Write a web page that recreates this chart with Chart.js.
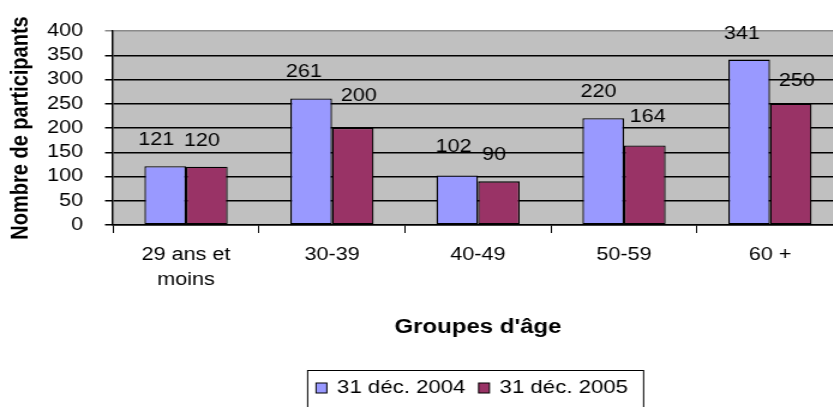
<!DOCTYPE html>
<html>
<head>
<meta charset="utf-8">
<script src="https://cdn.jsdelivr.net/npm/chart.js@4/dist/chart.umd.min.js"></script>
<style>
  html, body { margin: 0; padding: 0; background: #fff; overflow: hidden; width: 833px; height: 407px; }
  #wrap { width: 720px; height: 407px; transform: scaleX(1.2); transform-origin: 0 0; }
  canvas { display: block; }
</style>
</head>
<body>
<div id="wrap"><canvas id="c" width="720" height="407"></canvas></div>
<script>
const categories = [['29 ans et', 'moins'], '30-39', '40-49', '50-59', '60 +'];
const series2004 = [121, 261, 102, 220, 341];
const series2005 = [120, 200, 90, 164, 250];
const seriesLabels = ['31 déc. 2004', '31 déc. 2005'];
const seriesColors = ['#9999FF', '#993366'];
const yMin = 0, yMax = 400, yStep = 50;
const xTitle = "Groupes d'âge";
const yTitle = 'Nombre de participants';

// label placement offsets (style only)
const labelDx = [[-7.5, -6, -3, -4, -6], [-4, 5, -4, 2.5, 5]];
const labelDy = [[-26, -26, -28, -26, -26], [-26, -32, -26, -28, -23]];

const FONT = '"Liberation Sans", Arial, sans-serif';

const plotBg = {
  id: 'plotBg',
  beforeDraw(chart) {
    const { ctx, chartArea: a } = chart;
    ctx.save();
    ctx.fillStyle = '#C0C0C0';
    ctx.fillRect(a.left, a.top, a.right - a.left, a.bottom - a.top);
    ctx.restore();
  }
};

const valueLabels = {
  id: 'valueLabels',
  afterDatasetsDraw(chart) {
    const ctx = chart.ctx;
    ctx.save();
    ctx.font = '18px ' + FONT;
    ctx.fillStyle = '#000';
    ctx.textAlign = 'center';
    ctx.textBaseline = 'middle';
    chart.data.datasets.forEach((ds, di) => {
      const meta = chart.getDatasetMeta(di);
      meta.data.forEach((el, i) => {
        ctx.fillText(String(ds.data[i]), el.x + labelDx[di][i], el.y + labelDy[di][i]);
      });
    });
    ctx.restore();
  }
};

const boxLegend = {
  id: 'boxLegend',
  afterDraw(chart) {
    const ctx = chart.ctx;
    const a = chart.chartArea;
    ctx.save();
    ctx.font = '18.5px ' + FONT;
    const mw = 9, mh = 10, padL = 7.5, padR = 12.5, gapM = 8.5, gapItem = 11;
    const ds = chart.data.datasets;
    const widths = ds.map(d => ctx.measureText(d.label).width);
    let total = padL + padR;
    widths.forEach((w, i) => { total += mw + gapM + w + (i < widths.length - 1 ? gapItem : 0); });
    const cx = (a.left + a.right) / 2 - 2.5;
    const left = cx - total / 2;
    const top = 370, h = 40, cy = 388;
    ctx.fillStyle = '#fff';
    ctx.fillRect(left, top, total, h);
    ctx.strokeStyle = '#000';
    ctx.lineWidth = 1;
    ctx.strokeRect(left + 0.5, top + 0.5, total, h);
    let x = left + padL;
    ds.forEach((d, i) => {
      ctx.fillStyle = d.backgroundColor;
      ctx.fillRect(x, cy - mh / 2, mw, mh);
      ctx.strokeStyle = '#000';
      ctx.lineWidth = 1;
      ctx.strokeRect(x, cy - mh / 2, mw, mh);
      x += mw + gapM;
      ctx.fillStyle = '#000';
      ctx.textAlign = 'left';
      ctx.textBaseline = 'middle';
      ctx.fillText(d.label, x, cy);
      x += widths[i] + gapItem;
    });
    ctx.restore();
  }
};

new Chart(document.getElementById('c'), {
  type: 'bar',
  data: {
    labels: categories,
    datasets: [
      { label: seriesLabels[0], data: series2004, backgroundColor: seriesColors[0], borderColor: '#000', borderWidth: 1.3, borderSkipped: false },
      { label: seriesLabels[1], data: series2005, backgroundColor: seriesColors[1], borderColor: '#000', borderWidth: 1.3, borderSkipped: false }
    ]
  },
  options: {
    responsive: false,
    animation: false,
    devicePixelRatio: 1,
    layout: { padding: { top: 31, right: 17.5, bottom: 68, left: 0 } },
    datasets: { bar: { categoryPercentage: 0.57, barPercentage: 1.0 } },
    plugins: { legend: { display: false }, tooltip: { enabled: false } },
    scales: {
      x: {
        grid: { display: true, drawOnChartArea: false, drawTicks: true, tickLength: 8, color: '#000', lineWidth: 1 },
        border: { display: true, color: '#000', width: 1.5 },
        ticks: { color: '#000', font: { family: FONT, size: 18, lineHeight: 1.39 }, padding: 10, maxRotation: 0, autoSkip: false },
        title: { display: true, text: xTitle, color: '#000', font: { family: FONT, size: 20, weight: 'bold', lineHeight: 1.2 }, padding: { top: 0, bottom: 0 } },
        afterFit(scale) { scale.height = 114; }
      },
      y: {
        min: yMin, max: yMax,
        grid: {
          color: (c) => (c.tick && c.tick.value === yMax ? '#8a8a8a' : '#000'),
          lineWidth: 1.5, drawTicks: true, tickLength: 6.7
        },
        border: { display: true, color: '#000', width: 1.5 },
        ticks: { stepSize: yStep, autoSkip: false, color: '#000', font: { family: FONT, size: 18 }, padding: 18.3 },
        title: { display: true, text: yTitle, color: '#000', font: { family: FONT, size: 20, weight: 'bold', lineHeight: 1.2 }, padding: { top: 5.5, bottom: 0 } },
        afterFit(scale) { scale.width = 94.2; }
      }
    }
  },
  plugins: [plotBg, valueLabels, boxLegend]
});
</script>
</body>
</html>
